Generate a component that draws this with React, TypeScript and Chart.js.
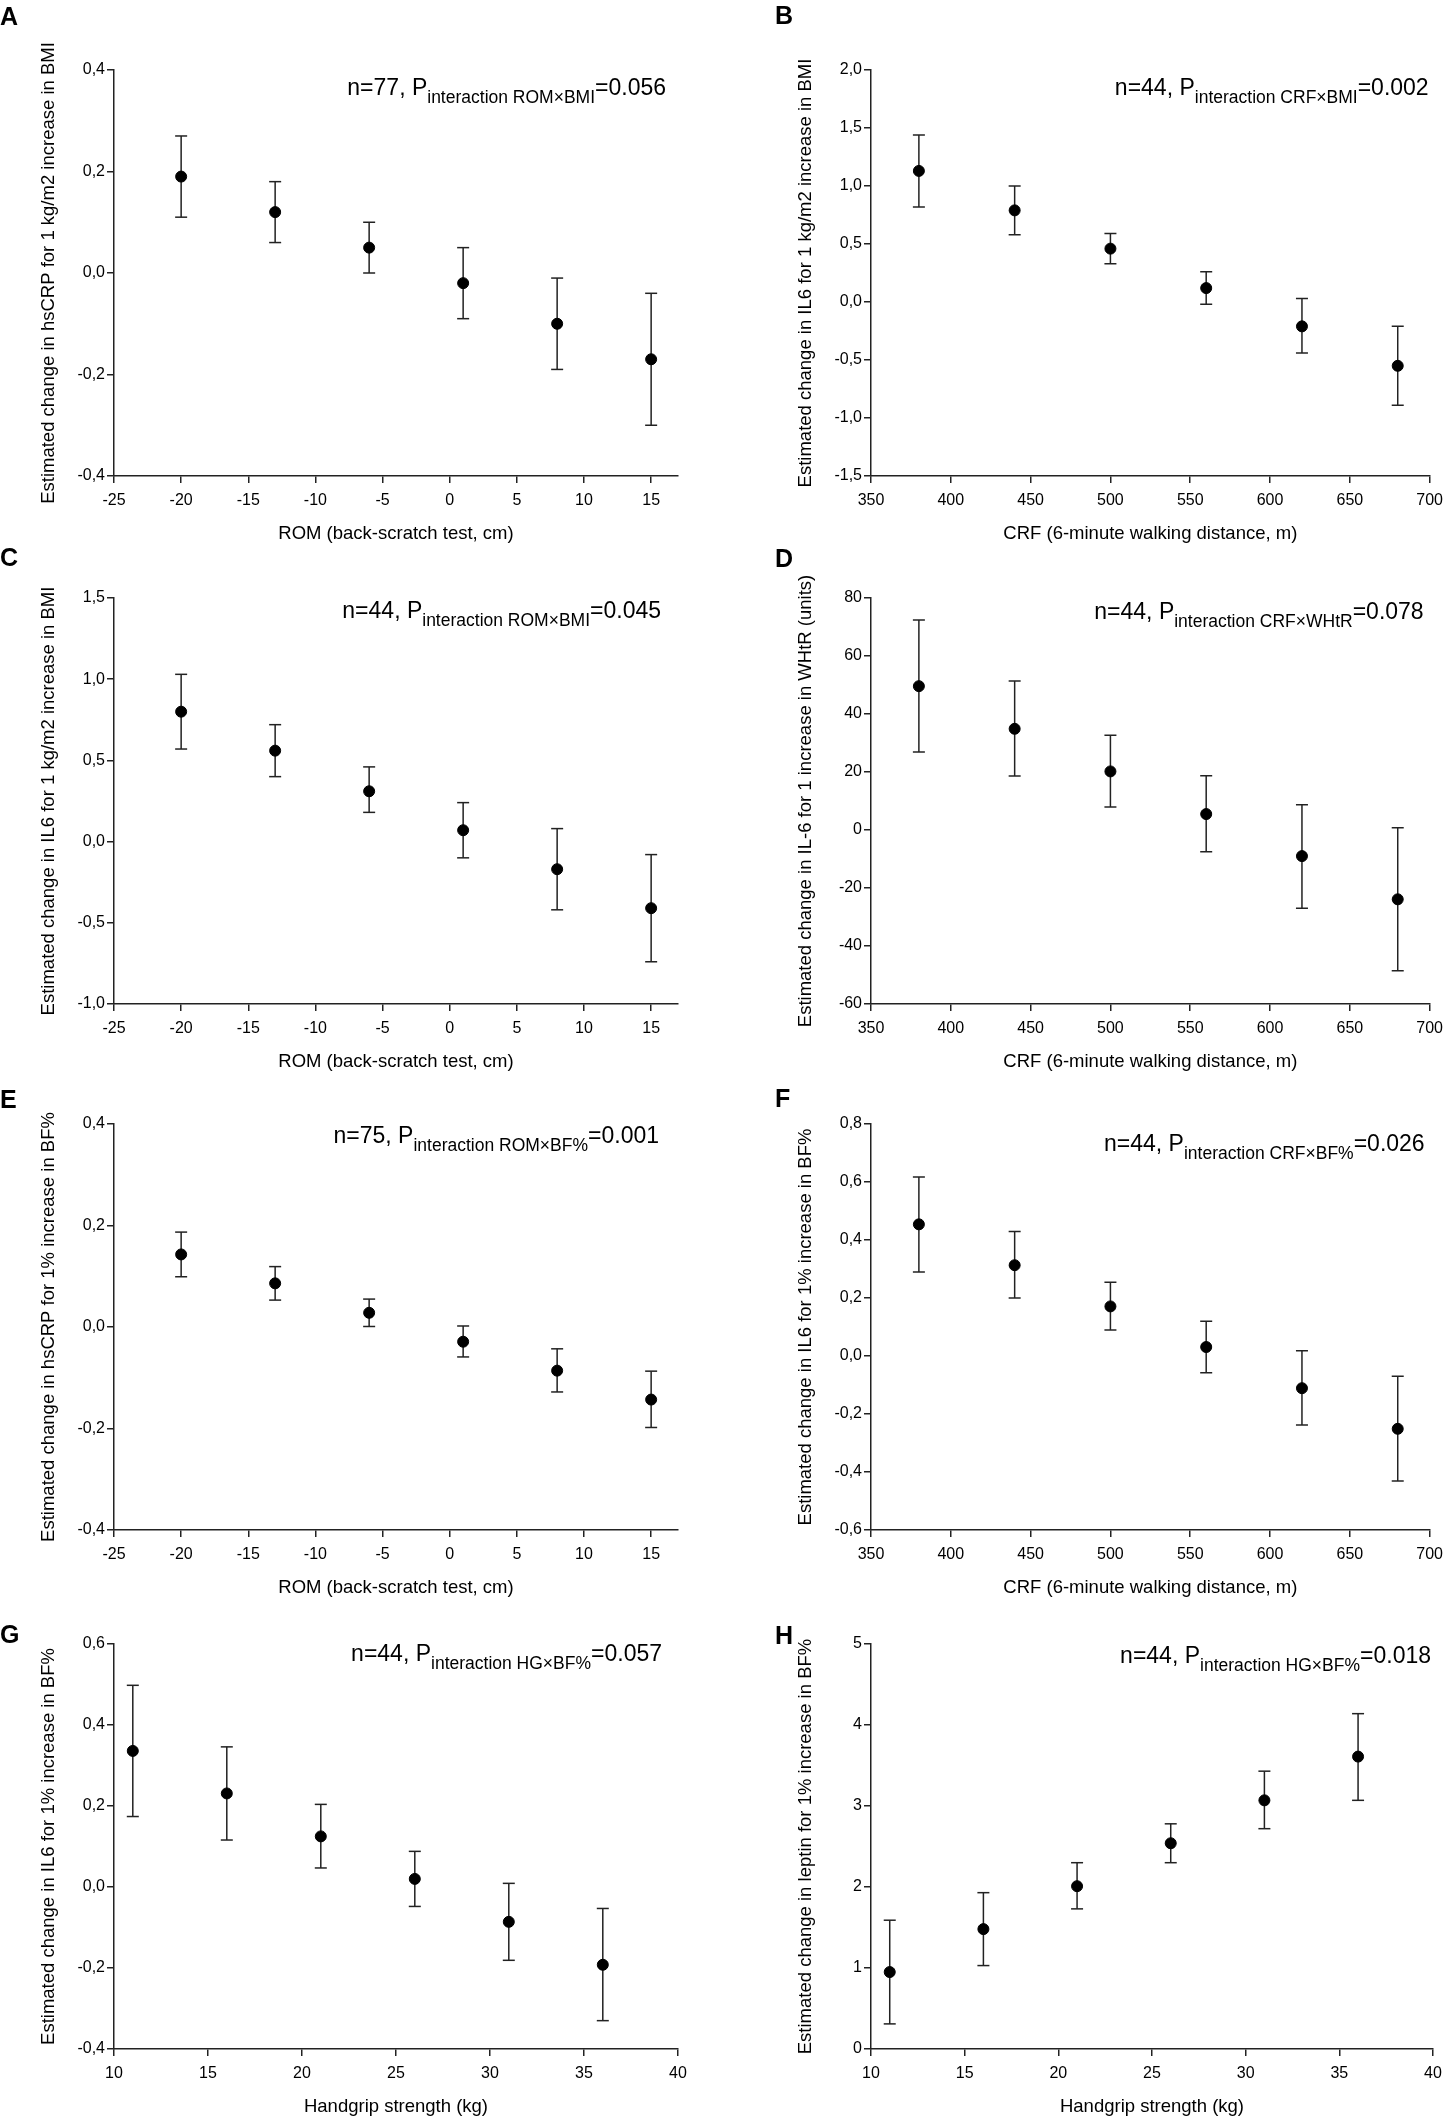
import { useEffect, useRef } from "react";
import { Chart, registerables } from "chart.js";

Chart.register(...registerables);

const FONT = "'Liberation Sans', Arial, sans-serif";

// x levels at which the estimates are evaluated
const romLevels = [-20, -13, -6, 1, 8, 15];
const crfLevels = [380, 440, 500, 560, 620, 680];
const hgLevels = [11, 16, 21, 26, 31, 36];

// A: hsCRP per 1 kg/m2 BMI by ROM
const aEst = [0.19, 0.12, 0.05, -0.02, -0.1, -0.17];
const aLow = [0.11, 0.06, 0.0, -0.09, -0.19, -0.3];
const aHigh = [0.27, 0.18, 0.1, 0.05, -0.01, -0.04];

// B: IL6 per 1 kg/m2 BMI by CRF
const bEst = [1.13, 0.79, 0.46, 0.12, -0.21, -0.55];
const bLow = [0.82, 0.58, 0.33, -0.02, -0.44, -0.89];
const bHigh = [1.44, 1.0, 0.59, 0.26, 0.03, -0.21];

// C: IL6 per 1 kg/m2 BMI by ROM
const cEst = [0.8, 0.56, 0.31, 0.07, -0.17, -0.41];
const cLow = [0.57, 0.4, 0.18, -0.1, -0.42, -0.74];
const cHigh = [1.03, 0.72, 0.46, 0.24, 0.08, -0.08];

// D: IL-6 per 1 unit WHtR by CRF
const dEst = [49.6, 34.9, 20.2, 5.5, -9.0, -23.9];
const dLow = [26.9, 18.6, 7.9, -7.5, -27.0, -48.5];
const dHigh = [72.4, 51.4, 32.7, 18.7, 8.7, 0.8];

// E: hsCRP per 1% BF by ROM
const eEst = [0.143, 0.086, 0.028, -0.029, -0.086, -0.143];
const eLow = [0.099, 0.053, 0.001, -0.059, -0.128, -0.198];
const eHigh = [0.187, 0.119, 0.055, 0.002, -0.043, -0.087];

// F: IL6 per 1% BF by CRF
const fEst = [0.454, 0.313, 0.171, 0.031, -0.111, -0.251];
const fLow = [0.29, 0.2, 0.09, -0.058, -0.238, -0.431];
const fHigh = [0.617, 0.429, 0.254, 0.12, 0.018, -0.07];

// G: IL6 per 1% BF by handgrip
const gEst = [0.336, 0.231, 0.125, 0.02, -0.086, -0.192];
const gLow = [0.174, 0.116, 0.047, -0.048, -0.181, -0.33];
const gHigh = [0.498, 0.346, 0.204, 0.088, 0.009, -0.053];

// H: leptin per 1% BF by handgrip
const hEst = [0.95, 1.48, 2.01, 2.54, 3.07, 3.61];
const hLow = [0.31, 1.03, 1.73, 2.3, 2.72, 3.07];
const hHigh = [1.59, 1.93, 2.3, 2.78, 3.43, 4.14];

const romTitle = "ROM (back-scratch test, cm)";
const crfTitle = "CRF (6-minute walking distance, m)";
const hgTitle = "Handgrip strength (kg)";

type Panel = {
  letter: string;
  col: number;
  row: number;
  xs: number[];
  est: number[];
  low: number[];
  high: number[];
  xMin: number;
  xMax: number;
  xStep: number;
  yMin: number;
  yMax: number;
  yStep: number;
  yDec: number;
  xTitle: string;
  yTitle: string;
  n: string;
  sub: string;
  p: string;
  letterDy: number;
  noteDy: number;
  noteDx: number;
};

const panels: Panel[] = [
  {
    letter: "A", col: 0, row: 0, xs: romLevels, est: aEst, low: aLow, high: aHigh,
    xMin: -25, xMax: 17, xStep: 5, yMin: -0.4, yMax: 0.4, yStep: 0.2, yDec: 1,
    xTitle: romTitle, yTitle: "Estimated change in hsCRP for 1 kg/m2 increase in BMI",
    n: "77", sub: "interaction ROM×BMI", p: "0.056", letterDy: -45, noteDy: 25, noteDx: -12,
  },
  {
    letter: "B", col: 1, row: 0, xs: crfLevels, est: bEst, low: bLow, high: bHigh,
    xMin: 350, xMax: 700, xStep: 50, yMin: -1.5, yMax: 2.0, yStep: 0.5, yDec: 1,
    xTitle: crfTitle, yTitle: "Estimated change in IL6 for 1 kg/m2 increase in BMI",
    n: "44", sub: "interaction CRF×BMI", p: "0.002", letterDy: -46, noteDy: 25, noteDx: -1,
  },
  {
    letter: "C", col: 0, row: 1, xs: romLevels, est: cEst, low: cLow, high: cHigh,
    xMin: -25, xMax: 17, xStep: 5, yMin: -1.0, yMax: 1.5, yStep: 0.5, yDec: 1,
    xTitle: romTitle, yTitle: "Estimated change in IL6 for 1 kg/m2 increase in BMI",
    n: "44", sub: "interaction ROM×BMI", p: "0.045", letterDy: -32, noteDy: 20, noteDx: -17,
  },
  {
    letter: "D", col: 1, row: 1, xs: crfLevels, est: dEst, low: dLow, high: dHigh,
    xMin: 350, xMax: 700, xStep: 50, yMin: -60, yMax: 80, yStep: 20, yDec: 0,
    xTitle: crfTitle, yTitle: "Estimated change in IL-6 for 1 increase in WHtR (units)",
    n: "44", sub: "interaction CRF×WHtR", p: "0.078", letterDy: -31, noteDy: 21, noteDx: -6,
  },
  {
    letter: "E", col: 0, row: 2, xs: romLevels, est: eEst, low: eLow, high: eHigh,
    xMin: -25, xMax: 17, xStep: 5, yMin: -0.4, yMax: 0.4, yStep: 0.2, yDec: 1,
    xTitle: romTitle, yTitle: "Estimated change in hsCRP for 1% increase in BF%",
    n: "75", sub: "interaction ROM×BF%", p: "0.001", letterDy: -16, noteDy: 19, noteDx: -19,
  },
  {
    letter: "F", col: 1, row: 2, xs: crfLevels, est: fEst, low: fLow, high: fHigh,
    xMin: 350, xMax: 700, xStep: 50, yMin: -0.6, yMax: 0.8, yStep: 0.2, yDec: 1,
    xTitle: crfTitle, yTitle: "Estimated change in IL6 for 1% increase in BF%",
    n: "44", sub: "interaction CRF×BF%", p: "0.026", letterDy: -17, noteDy: 27, noteDx: -5,
  },
  {
    letter: "G", col: 0, row: 3, xs: hgLevels, est: gEst, low: gLow, high: gHigh,
    xMin: 10, xMax: 40, xStep: 5, yMin: -0.4, yMax: 0.6, yStep: 0.2, yDec: 1,
    xTitle: hgTitle, yTitle: "Estimated change in IL6 for 1% increase in BF%",
    n: "44", sub: "interaction HG×BF%", p: "0.057", letterDy: -1, noteDy: 17, noteDx: -16,
  },
  {
    letter: "H", col: 1, row: 3, xs: hgLevels, est: hEst, low: hLow, high: hHigh,
    xMin: 10, xMax: 40, xStep: 5, yMin: 0, yMax: 5, yStep: 1, yDec: 0,
    xTitle: hgTitle, yTitle: "Estimated change in leptin for 1% increase in BF%",
    n: "44", sub: "interaction HG×BF%", p: "0.018", letterDy: 0, noteDy: 19, noteDx: -2,
  },
];

// page layout (px)
const CANVAS_LEFT = [0, 757];
const PLOT_W = [564, 562];
const PAD_RIGHT = [20, 18];
const LETTER_X = [0, 18];
const PLOT_TOP = [70, 598, 1124, 1644];
const PLOT_H = [406, 406, 406, 405];
const Y_AXIS_W = 114;
const X_AXIS_H = 70;
const INK = "#222";

function notePlugin(p: Panel) {
  return {
    id: "panelNote",
    afterDraw(chart: Chart) {
      const { ctx, chartArea } = chart;
      ctx.save();
      ctx.fillStyle = "#000";
      ctx.textAlign = "left";
      ctx.textBaseline = "alphabetic";
      ctx.font = `bold 25px ${FONT}`;
      ctx.fillText(p.letter, LETTER_X[p.col], chartArea.top + p.letterDy);

      const big = `23px ${FONT}`;
      const small = `17.5px ${FONT}`;
      const head = `n=${p.n}, P`;
      const tail = `=${p.p}`;
      ctx.font = big;
      const wHead = ctx.measureText(head).width;
      const wTail = ctx.measureText(tail).width;
      ctx.font = small;
      const wSub = ctx.measureText(p.sub).width;
      let x = chartArea.right + p.noteDx - (wHead + wSub + wTail);
      const y = chartArea.top + p.noteDy;
      ctx.font = big;
      ctx.fillText(head, x, y);
      x += wHead;
      ctx.font = small;
      ctx.fillText(p.sub, x, y + 8);
      x += wSub;
      ctx.font = big;
      ctx.fillText(tail, x, y);
      ctx.restore();
    },
  };
}

function PanelChart({ panel }: { panel: Panel }) {
  const chartRef = useRef<HTMLCanvasElement>(null);

  useEffect(() => {
    if (!chartRef.current) return;

    const points = panel.xs.map((x, i) => ({ x, y: panel.est[i] }));
    // each whisker is two points joined by a line, with a null to break the path
    const whiskers = panel.xs.flatMap((x, i) => [
      { x, y: panel.low[i] },
      { x, y: panel.high[i] },
      { x, y: null as unknown as number },
    ]);

    const chart = new Chart(chartRef.current, {
      type: "scatter",
      data: {
        datasets: [
          {
            label: "Estimate",
            data: points,
            pointRadius: 5.5,
            pointHoverRadius: 5.5,
            backgroundColor: "#000",
            borderColor: "#000",
            borderWidth: 1,
          },
          {
            label: "95% CI",
            data: whiskers,
            showLine: true,
            spanGaps: false,
            borderColor: INK,
            borderWidth: 1.5,
            pointStyle: "line",
            pointRadius: 6,
            pointHoverRadius: 6,
            pointBorderColor: INK,
            pointBorderWidth: 1.5,
          },
        ],
      },
      options: {
        animation: false,
        responsive: true,
        maintainAspectRatio: false,
        layout: {
          padding: { left: 0, right: PAD_RIGHT[panel.col], top: 70, bottom: 0 },
        },
        plugins: {
          legend: { display: false },
          tooltip: { enabled: false },
        },
        scales: {
          x: {
            type: "linear",
            min: panel.xMin,
            max: panel.xMax,
            afterFit: (scale) => {
              scale.height = X_AXIS_H;
            },
            border: { display: true, color: INK, width: 1.5 },
            grid: {
              display: true,
              drawOnChartArea: false,
              drawTicks: true,
              tickLength: 7,
              color: INK,
              lineWidth: 1.5,
            },
            ticks: {
              stepSize: panel.xStep,
              includeBounds: false,
              padding: 8,
              color: "#000",
              font: { family: FONT, size: 16 },
            },
            title: {
              display: true,
              text: panel.xTitle,
              color: "#000",
              padding: { top: 0, bottom: 1 },
              font: { family: FONT, size: 18.5 },
            },
          },
          y: {
            type: "linear",
            min: panel.yMin,
            max: panel.yMax,
            afterFit: (scale) => {
              scale.width = Y_AXIS_W;
            },
            border: { display: true, color: INK, width: 1.5 },
            grid: {
              display: true,
              drawOnChartArea: false,
              drawTicks: true,
              tickLength: 7,
              color: INK,
              lineWidth: 1.5,
            },
            ticks: {
              stepSize: panel.yStep,
              padding: 2,
              color: "#000",
              font: { family: FONT, size: 16 },
              callback: (v) => Number(v).toFixed(panel.yDec).replace(".", ","),
            },
            title: {
              display: true,
              text: panel.yTitle,
              color: "#000",
              padding: { top: 38, bottom: 0 },
              font: { family: FONT, size: 18.5 },
            },
          },
        },
      },
      plugins: [notePlugin(panel)],
    });

    return () => {
      chart.destroy();
    };
  }, [panel]);

  const width = Y_AXIS_W + PLOT_W[panel.col] + PAD_RIGHT[panel.col];
  const height = PLOT_H[panel.row] + 70 + X_AXIS_H;

  return (
    <div
      style={{
        position: "absolute",
        left: CANVAS_LEFT[panel.col],
        top: PLOT_TOP[panel.row] - 70,
        width,
        height,
      }}
    >
      <canvas ref={chartRef} />
    </div>
  );
}

export default function App() {
  return (
    <div
      style={{
        position: "absolute",
        left: 0,
        top: 0,
        width: 1451,
        height: 2121,
        overflow: "hidden",
        background: "#fff",
      }}
    >
      {panels.map((p) => (
        <PanelChart key={p.letter} panel={p} />
      ))}
    </div>
  );
}
